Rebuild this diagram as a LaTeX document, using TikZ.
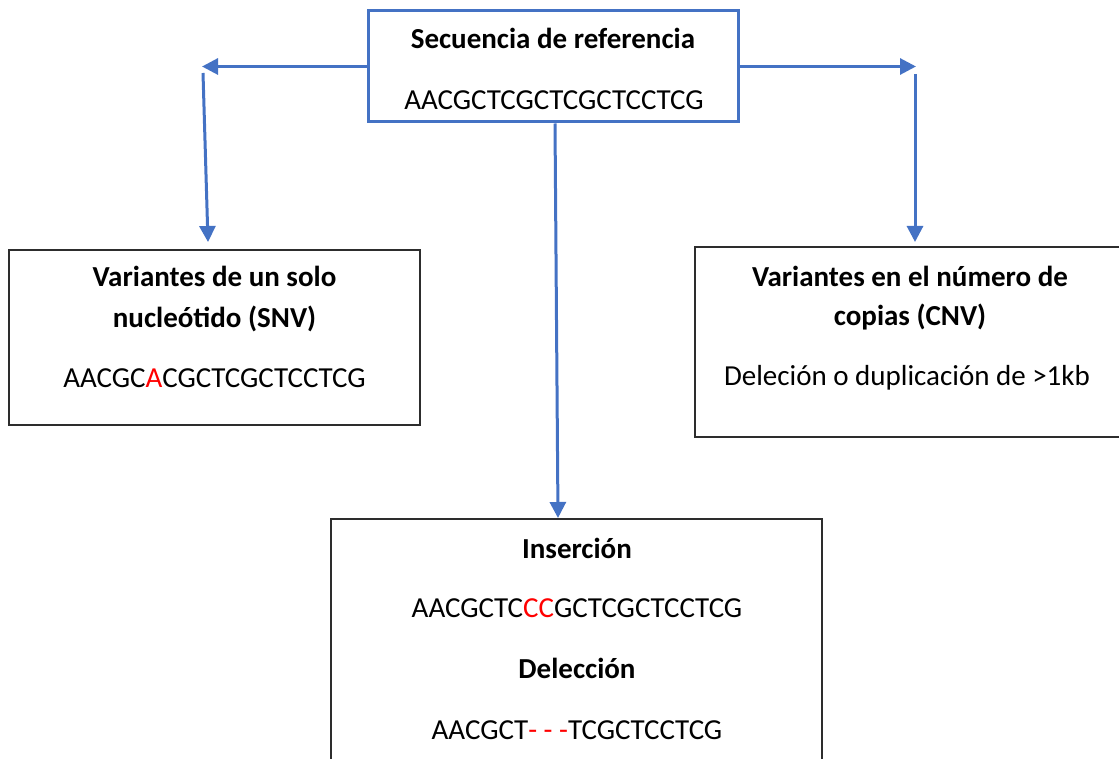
\documentclass[tikz,border=0pt]{standalone}
\usepackage{fontspec}
\setmainfont{Carlito}
\usetikzlibrary{arrows.meta}
\definecolor{flowblue}{RGB}{68,114,196}
\definecolor{mutred}{rgb}{1,0,0}
\definecolor{boxgray}{RGB}{45,45,45}

\tikzset{
  refbox/.style={draw=flowblue, line width=3pt, inner sep=0pt},
  varbox/.style={draw=boxgray, line width=1.8pt, inner sep=0pt},
  txt/.style={anchor=base, inner sep=0pt, font=\fontsize{29}{35}\selectfont},
  head/.style={txt, font=\fontsize{29}{35}\selectfont\bfseries},
  flow/.style={draw=flowblue, line width=3pt},
  flowarrow/.style={flow, -{Triangle[length=16pt,width=16pt]}},
}

\begin{document}
\begin{tikzpicture}[x=1pt,y=-1pt]
			\useasboundingbox (0,0) rectangle (1119,759);
			\clip (0,0) rectangle (1119,759);
			% boxes
			\node[refbox, minimum width=370, minimum height=111] (ref) at (553,66.5) {};
			\node[varbox, minimum width=411, minimum height=175] (snv) at (214.5,337.5) {};
			\node[varbox, minimum width=428, minimum height=190] (cnv) at (909,342) {};
			\node[varbox, minimum width=491, minimum height=281] (ins) at (576.5,659.5) {};
			% texts
			\node[head] (reftitle) at (553,49) {Secuencia de referencia};
			\node[txt] (refseq) at (554,110) {AACGCTCGCTCGCTCCTCG};
			\node[head] (snvtitle) at (214.5,287) {Variantes de un solo};
			\node[head] (snvsub) at (214.5,327) {nucleótido (SNV)};
			\node[txt] (snvseq) at (214.5,387) {AACGC\textcolor{mutred}{A}CGCTCGCTCCTCG};
			\node[head] (cnvtitle) at (910,287) {Variantes en el número de};
			\node[head] (cnvsub) at (910,326) {copias (CNV)};
			\node[txt] (cnvseq) at (907,385) {Deleción o duplicación de >1kb};
			\node[head] (institle) at (577,558) {Inserción};
			\node[txt] (insseq) at (577,617) {AACGCTC\textcolor{mutred}{CC}GCTCGCTCCTCG};
			\node[head] (deltitle) at (577,678) {Delección};
			\node[txt] (delseq) at (577,739) {AACGCT\textcolor{mutred}{- - -}TCGCTCCTCG};
			% connectors
			\coordinate (lturn) at (202,66.5);
			\coordinate (ldrop) at (203,73);
			\coordinate (lland) at (208,242);
			\coordinate (rturn) at (916,66.5);
			\coordinate (rdrop) at (915,74);
			\coordinate (rland) at (915,242);
			\coordinate (mland) at (558,518);
			\draw [flowarrow] (ref.west) -- (lturn);
			\draw [flowarrow] (ldrop) -- (lland);
			\draw [flowarrow] (ref.east) -- (rturn);
			\draw [flowarrow] (rdrop) -- (rland);
			\draw [flowarrow] ([xshift=2]ref.south) -- (mland);
		\end{tikzpicture}
\end{document}
